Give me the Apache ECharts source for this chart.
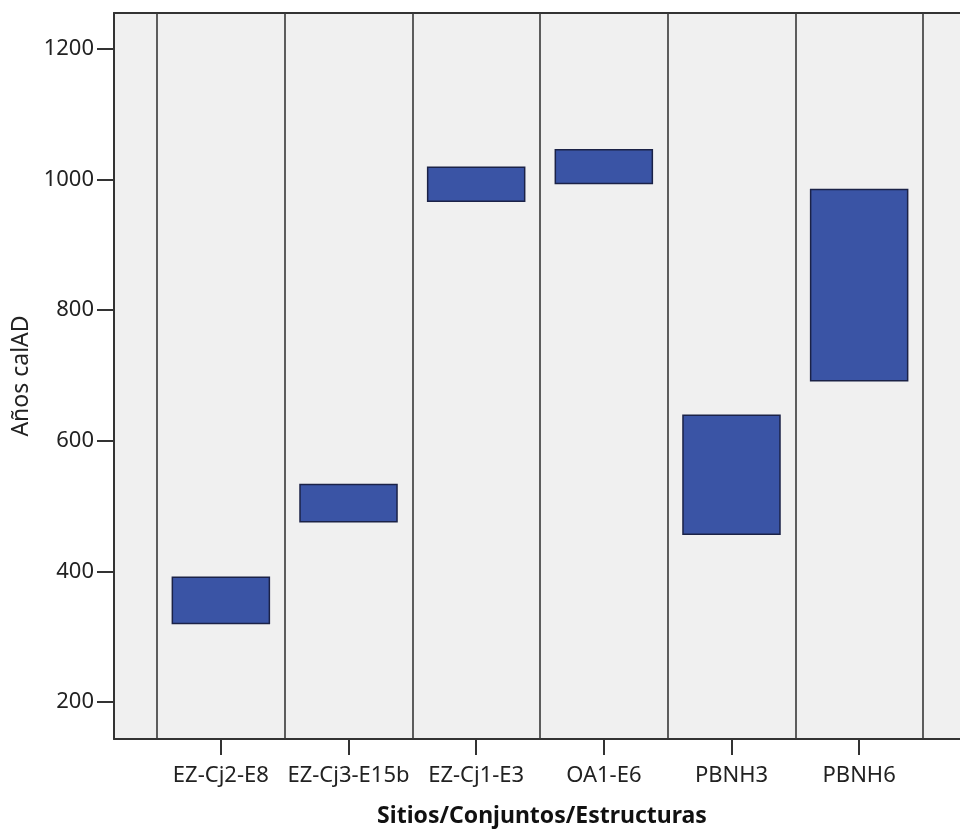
<!DOCTYPE html>
<html>
<head>
<meta charset="utf-8">
<script src="https://cdn.jsdelivr.net/npm/echarts@6/dist/echarts.min.js"></script>
<style>
html,body{margin:0;padding:0;background:#fff;overflow:hidden;}
#c{width:960px;height:833px;}
</style>
</head>
<body>
<div id="c"></div>
<script>
const categories = ['EZ-Cj2-E8', 'EZ-Cj3-E15b', 'EZ-Cj1-E3', 'OA1-E6', 'PBNH3', 'PBNH6'];
const lowValues  = [320, 476, 967, 994, 457, 692];
const highValues = [391, 533, 1019, 1046, 639, 985];
const yTicks = [200, 400, 600, 800, 1000, 1200];

const centers = categories.map((c, i) => i + 0.5);
const boundaries = categories.map((c, i) => i).concat([categories.length]);
const seriesData = categories.map((c, i) => [centers[i], lowValues[i], highValues[i]]);

const FONT = 'Noto Sans';
const chart = echarts.init(document.getElementById('c'), null, {renderer: 'canvas'});
chart.setOption({
  animation: false,
  backgroundColor: '#ffffff',
  grid: {
    left: 114, right: 0, top: 13, bottom: 90,
    show: true, backgroundColor: '#f0f0f0', borderWidth: 0
  },
  xAxis: [{
    type: 'value',
    min: -0.337, max: categories.length + 0.29,
    name: 'Sitios/Conjuntos/Estructuras',
    nameLocation: 'middle',
    nameGap: 66,
    nameTextStyle: {fontFamily: FONT, fontWeight: 'bold', fontSize: 23, color: '#111', padding: [0, 0, 0, 10]},
    axisLine: {show: true, onZero: false, lineStyle: {color: '#333333', width: 2}},
    axisTick: {show: true, customValues: centers, length: 16, lineStyle: {color: '#333333', width: 2}},
    axisLabel: {
      customValues: centers, margin: 26,
      fontFamily: FONT, fontSize: 22, color: '#222',
      formatter: v => categories[Math.round(v - 0.5)]
    },
    splitLine: {show: false}
  }, {
    type: 'value', position: 'top',
    min: -0.337, max: categories.length + 0.29,
    axisLine: {show: true, onZero: false, lineStyle: {color: '#333333', width: 2}},
    axisTick: {show: false}, axisLabel: {show: false}, splitLine: {show: false}
  }],
  yAxis: {
    type: 'value',
    min: 143.2, max: 1255.3,
    name: 'Años calAD',
    nameLocation: 'middle',
    nameGap: 78,
    nameTextStyle: {fontFamily: FONT, fontSize: 23, color: '#222'},
    axisLine: {show: true, onZero: false, lineStyle: {color: '#333333', width: 2}},
    axisTick: {show: true, customValues: yTicks, length: 17, lineStyle: {color: '#333333', width: 2}},
    axisLabel: {customValues: yTicks, margin: 20, fontFamily: FONT, fontSize: 22, color: '#222', formatter: v => String(v)},
    splitLine: {show: false}
  },
  series: [{
    type: 'custom',
    data: seriesData,
    encode: {x: 0, y: [1, 2]},
    renderItem: function (params, api) {
      const x = api.value(0), lo = api.value(1), hi = api.value(2);
      const p1 = api.coord([x - 0.38, hi]);
      const p2 = api.coord([x + 0.38, lo]);
      return {
        type: 'rect',
        shape: {x: p1[0], y: p1[1], width: p2[0] - p1[0], height: p2[1] - p1[1]},
        style: {fill: '#3a54a5', stroke: '#1b2247', lineWidth: 1.5}
      };
    },
    markLine: {
      silent: true, symbol: 'none', animation: false,
      label: {show: false},
      lineStyle: {color: '#383838', width: 1.6, type: 'solid'},
      data: boundaries.map(b => ({xAxis: b}))
    },
    z: 3
  }]
});
</script>
</body>
</html>
